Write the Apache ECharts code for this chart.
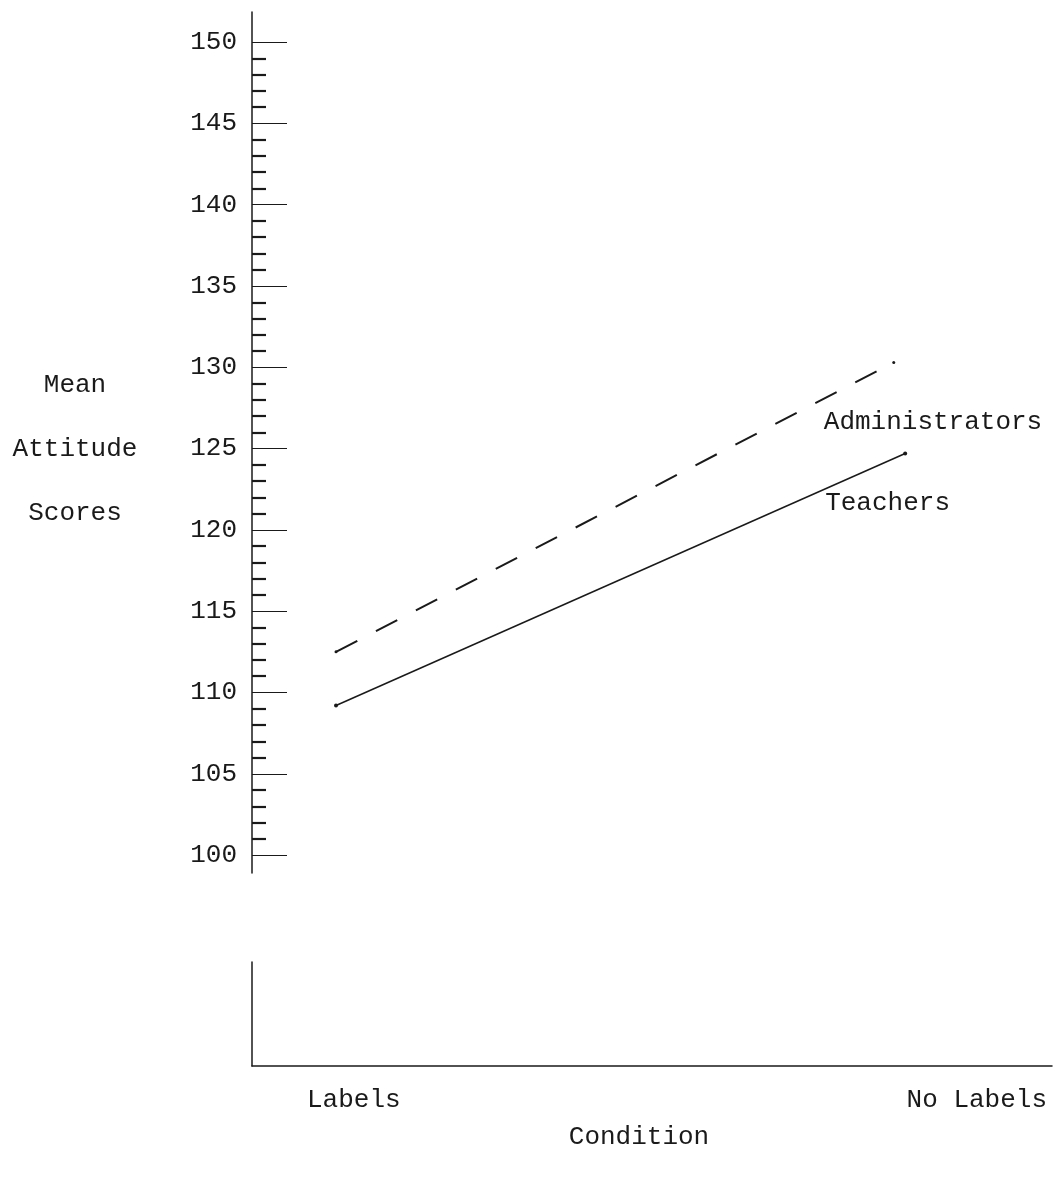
<!DOCTYPE html>
<html>
<head>
<meta charset="utf-8">
<script src="https://cdn.jsdelivr.net/npm/echarts@6/dist/echarts.min.js"></script>
<style>
html,body{margin:0;padding:0;background:#fff;}
#chart{width:1056px;height:1178px;}
</style>
</head>
<body>
<div id="chart"></div>
<script>
// ---- data ----
const conditions = ['Labels', 'No Labels'];
const teacherX = [0, 1];
const teacherScores = [109.2, 124.7];
const adminX = [0, 0.98];
const adminScores = [112.5, 130.3];
const majorTicks = [100, 105, 110, 115, 120, 125, 130, 135, 140, 145, 150];
const minorTicks = [];
for (let v = 100; v <= 150; v++) { if (v % 5 !== 0) minorTicks.push(v); }

const FONT = '"Liberation Mono", "DejaVu Sans Mono", monospace';
const INK = '#1a1a1a';

function pts(xs, ys) { return xs.map((x, i) => [x, ys[i]]); }

const chart = echarts.init(document.getElementById('chart'), null, {renderer: 'canvas'});
const option = {
  animation: false,
  backgroundColor: '#fff',
  textStyle: { fontFamily: FONT, color: INK },
  grid: [
    { left: 252, top: 12, width: 800, height: 861 },
    { left: 252, top: 962, width: 800, height: 104 }
  ],
  xAxis: [
    { type: 'value', gridIndex: 0, min: -0.1476, max: 1.258, show: false },
    {
      type: 'category', gridIndex: 1, data: conditions, boundaryGap: false,
      axisLine: { lineStyle: { color: INK, width: 1.5 } },
      axisTick: { show: false },
      axisLabel: {
        margin: 21, fontFamily: FONT, fontSize: 26, color: INK,
        alignMinLabel: 'left', alignMaxLabel: 'right',
        formatter: v => v === conditions[0] ? '{a|' + v + '}' : '{b|' + v + '}',
        rich: {
          a: { fontFamily: FONT, fontSize: 26, color: INK, padding: [0, 0, 0, 55] },
          b: { fontFamily: FONT, fontSize: 26, color: INK, padding: [0, 5, 0, 0] }
        }
      },
      splitLine: { show: false },
      name: 'Condition', nameLocation: 'middle', nameGap: 58,
      nameTextStyle: { fontFamily: FONT, fontSize: 26, color: INK, padding: [0, 26, 0, 0] }
    }
  ],
  yAxis: [
    {
      type: 'value', gridIndex: 0, min: 98.9, max: 151.85, position: 'left', offset: 0,
      axisLine: { show: true, onZero: false, lineStyle: { color: INK, width: 1.5 } },
      axisTick: { show: true, inside: true, length: 35, customValues: majorTicks, lineStyle: { color: INK, width: 1.2 } },
      axisLabel: { show: true, customValues: majorTicks, margin: 15, fontFamily: FONT, fontSize: 26, color: INK },
      splitLine: { show: false },
      name: '{s| }\n{n|Mean}\n{n|Attitude}\n{n|Scores}', nameLocation: 'middle', nameRotate: 0, nameGap: 177,
      nameTextStyle: {
        fontFamily: FONT, fontSize: 26, color: INK, align: 'center', verticalAlign: 'middle',
        rich: {
          s: { fontFamily: FONT, fontSize: 10, lineHeight: 13 },
          n: { fontFamily: FONT, fontSize: 26, color: INK, lineHeight: 64 }
        }
      }
    },
    {
      type: 'value', gridIndex: 0, min: 98.9, max: 151.85, position: 'left', offset: 0,
      axisLine: { show: false, onZero: false },
      axisTick: { show: true, inside: true, length: 14, customValues: minorTicks, lineStyle: { color: INK, width: 2.2 } },
      axisLabel: { show: false },
      splitLine: { show: false }
    },
    {
      type: 'value', gridIndex: 1, min: 0, max: 1,
      axisLine: { show: true, onZero: false, lineStyle: { color: INK, width: 1.5 } },
      axisTick: { show: false }, axisLabel: { show: false }, splitLine: { show: false }
    }
  ],
  series: [
    {
      name: 'Administrators', type: 'line', xAxisIndex: 0, yAxisIndex: 0,
      data: pts(adminX, adminScores).map((p, i) => i === 1 ? {
        value: p,
        label: { show: true, formatter: 'Administrators', position: 'inside', align: 'left', verticalAlign: 'middle', offset: [-70, 60], fontFamily: FONT, fontSize: 26, color: INK }
      } : { value: p }),
      symbol: 'circle', symbolSize: 3, showSymbol: true,
      itemStyle: { color: INK },
      lineStyle: { color: INK, width: 2, type: [24, 21] },
      silent: true
    },
    {
      name: 'Teachers', type: 'line', xAxisIndex: 0, yAxisIndex: 0,
      data: pts(teacherX, teacherScores).map((p, i) => i === 1 ? {
        value: p,
        label: { show: true, formatter: 'Teachers', position: 'inside', align: 'left', verticalAlign: 'middle', offset: [-80, 50], fontFamily: FONT, fontSize: 26, color: INK }
      } : { value: p }),
      symbol: 'circle', symbolSize: 4, showSymbol: true,
      itemStyle: { color: INK },
      lineStyle: { color: INK, width: 1.5 },
      silent: true
    }
  ]
};
chart.setOption(option);
</script>
</body>
</html>
